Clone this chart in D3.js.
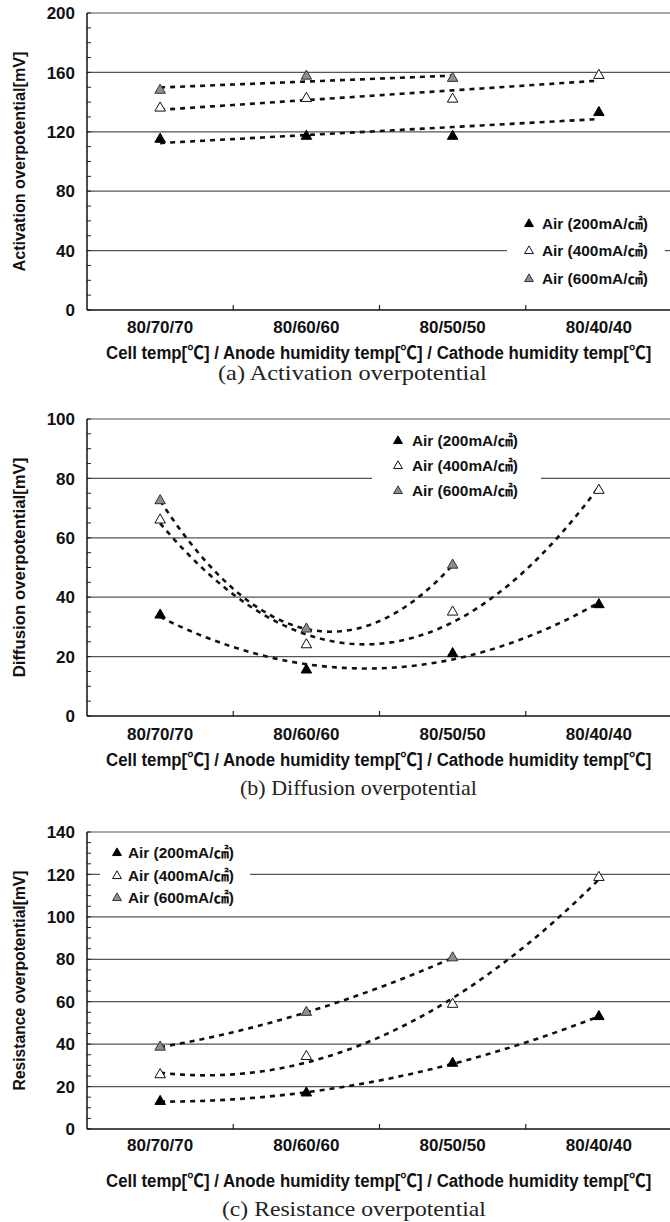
<!DOCTYPE html>
<html>
<head>
<meta charset="utf-8">
<script src="https://cdn.jsdelivr.net/npm/d3@7"></script>
<style>
  body { margin: 0; background: #fff; }
  .lbl { font-family: "Liberation Sans", "Noto Sans CJK KR", sans-serif; font-weight: bold; fill: #111; }
  .cap { font-family: "Liberation Serif", "DejaVu Serif", serif; fill: #222; }
</style>
</head>
<body>
<div id="chart"></div>
<script>
// categories on the x axis
const categories = ["80/70/70", "80/60/60", "80/50/50", "80/40/40"];
const seriesNames = ["Air (200mA/\u33A0)", "Air (400mA/\u33A0)", "Air (600mA/\u33A0)"];
const xTitle = "Cell temp[\u2103] / Anode humidity temp[\u2103] / Cathode humidity temp[\u2103]";

// (a) activation overpotential [mV]
const activation200 = [115, 117, 117, 133];
const activation400 = [136, 142.5, 142, 158];
const activation600 = [148, 157.5, 156];

// (b) diffusion overpotential [mV]
const diffusion200 = [34, 15.5, 21, 37.5];
const diffusion400 = [66, 24, 35, 76];
const diffusion600 = [72.5, 29.3, 50.8];

// (c) resistance overpotential [mV]
const resistance200 = [13, 17, 31, 53];
const resistance400 = [25.6, 34.2, 58.8, 118.6];
const resistance600 = [38.6, 55, 80.7];

const activationTicks = [0, 40, 80, 120, 160, 200];
const diffusionTicks = [0, 20, 40, 60, 80, 100];
const resistanceTicks = [0, 20, 40, 60, 80, 100, 120, 140];

const panels = [
    {top: 13, title: "Activation overpotential[mV]", caption: "(a) Activation overpotential",
     series: [activation200, activation400, activation600], ticks: activationTicks, minor: 10, degree: 1,
     legend: {x: 507, y: 210, w: 158, h: 82, mx: 529, tx: 542, rows: [224, 251, 279]},
     labelDy: 17, titleDy: 42, capDy: 63, capX: 218, capW: 269},
    {top: 419, title: "Diffusion overpotential[mV]", caption: "(b) Diffusion overpotential",
     series: [diffusion200, diffusion400, diffusion600], ticks: diffusionTicks, minor: 5, degree: 2,
     legend: {x: 372, y: 428, w: 169, h: 76, mx: 398, tx: 412, rows: [441, 466, 491]},
     labelDy: 18, titleDy: 43, capDy: 72, capX: 240, capW: 237},
    {top: 832, title: "Resistance overpotential[mV]", caption: "(c) Resistance overpotential",
     series: [resistance200, resistance400, resistance600], ticks: resistanceTicks, minor: 5, degree: 2,
     legend: {x: 100, y: 842, w: 150, h: 66, mx: 117, tx: 128, rows: [853, 876, 898]},
     labelDy: 16, titleDy: 51, capDy: 80, capX: 222, capW: 264}
];

const fills = ["#000", "#fff", "#8e8e8e"];
const strokes = ["#000", "#111", "#333"];

const width = 670, height = 1222;
const plotLeft = 87, plotRight = 672, plotH = 297;

const svg = d3.select("#chart").append("svg")
    .attr("width", width)
    .attr("height", height);

const x = d3.scaleBand().domain(categories).range([plotLeft, plotRight]);
const cx = c => x(c) + x.bandwidth() / 2;

// draw text squeezed/stretched horizontally to a given width
function fitText(parent, cls, size, str, w, base) {
    const t = parent.append("text").attr("class", cls)
        .attr("dy", "0.36em")
        .style("font-size", size + "px")
        .text(str);
    const k = w / t.node().getComputedTextLength();
    t.attr("transform", base + ` scale(${k},1)`);
    return t;
}

// least squares polynomial fit (like a spreadsheet trendline)
function polyFit(ys, degree) {
    const n = degree + 1;
    const A = [], b = [];
    for (let r = 0; r < n; r++) {
        A.push([]);
        for (let c = 0; c < n; c++) A[r].push(d3.sum(ys, (v, i) => Math.pow(i, r + c)));
        b.push(d3.sum(ys, (v, i) => v * Math.pow(i, r)));
    }
    for (let p = 0; p < n; p++) {
        for (let r = p + 1; r < n; r++) {
            const f = A[r][p] / A[p][p];
            for (let c = p; c < n; c++) A[r][c] -= f * A[p][c];
            b[r] -= f * b[p];
        }
    }
    const coef = new Array(n).fill(0);
    for (let r = n - 1; r >= 0; r--) {
        let s = b[r];
        for (let c = r + 1; c < n; c++) s -= A[r][c] * coef[c];
        coef[r] = s / A[r][r];
    }
    return t => coef.reduce((acc, k, i) => acc + k * Math.pow(t, i), 0);
}

panels.forEach(p => {
    const bottom = p.top + plotH;
    const yMax = d3.max(p.ticks);
    const y = d3.scaleLinear().domain([0, yMax]).range([bottom, p.top]);
    const g = svg.append("g");

    // gridlines
    g.selectAll(".grid").data(p.ticks.filter(t => t > 0)).join("line")
        .attr("x1", plotLeft).attr("x2", plotRight)
        .attr("y1", d => y(d)).attr("y2", d => y(d))
        .attr("stroke", "#555").attr("stroke-width", 1.2);

    // minor ticks on y axis (inside)
    g.selectAll(".minor").data(d3.range(0, yMax + 0.01, p.minor)).join("line")
        .attr("x1", plotLeft).attr("x2", plotLeft + 4)
        .attr("y1", d => y(d)).attr("y2", d => y(d))
        .attr("stroke", "#222").attr("stroke-width", 1);

    // x ticks at category boundaries (inside)
    g.selectAll(".xt").data(categories.slice(1)).join("line")
        .attr("x1", d => x(d)).attr("x2", d => x(d))
        .attr("y1", bottom).attr("y2", bottom - 5)
        .attr("stroke", "#222").attr("stroke-width", 1.2);

    // axes lines
    g.append("line").attr("x1", plotLeft).attr("x2", plotLeft)
        .attr("y1", p.top).attr("y2", bottom)
        .attr("stroke", "#111").attr("stroke-width", 1.5);
    g.append("line").attr("x1", plotLeft).attr("x2", plotRight)
        .attr("y1", bottom).attr("y2", bottom)
        .attr("stroke", "#111").attr("stroke-width", 1.5);

    // y tick labels
    g.selectAll(".yl").data(p.ticks).join("text")
        .attr("class", "lbl")
        .attr("x", 75).attr("y", d => y(d))
        .attr("dy", "0.36em")
        .attr("text-anchor", "end")
        .style("font-size", "17px")
        .text(d => d);

    // x tick labels
    g.selectAll(".xl").data(categories).join("text")
        .attr("class", "lbl")
        .attr("x", d => cx(d)).attr("y", bottom + p.labelDy)
        .attr("dy", "0.36em")
        .attr("text-anchor", "middle")
        .style("font-size", "17px")
        .text(d => d);

    // axis titles
    fitText(g, "lbl", 16, p.title, 220, `translate(19,${(p.top + bottom) / 2}) rotate(-90)`)
        .attr("text-anchor", "middle");
    fitText(g, "lbl", 18.5, xTitle, 546, `translate(106,${bottom + p.titleDy})`);

    // caption
    fitText(g, "cap", 20, p.caption, p.capW, `translate(${p.capX},${bottom + p.capDy})`);

    // trendlines
    const line = d3.line().x(d => d[0]).y(d => d[1]);
    p.series.forEach(vals => {
        const f = polyFit(vals, p.degree);
        const last = vals.length - 1;
        const pts = d3.range(0, last + 0.001, last / 60).map(t => {
            const px = x(categories[0]) + x.bandwidth() * (t + 0.5);
            return [px, y(f(t))];
        });
        g.append("path").attr("d", line(pts))
            .attr("fill", "none")
            .attr("stroke", "#111")
            .attr("stroke-width", 2.6)
            .attr("stroke-dasharray", "5,5");
    });

    // markers
    const tri = d3.symbol(d3.symbolTriangle, 48);
    p.series.forEach((vals, si) => {
        g.selectAll(null).data(vals).join("path")
            .attr("d", tri)
            .attr("transform", (d, i) => `translate(${cx(categories[i])},${y(d)})`)
            .attr("fill", fills[si])
            .attr("stroke", strokes[si])
            .attr("stroke-width", 1);
    });

    // legend
    const L = p.legend;
    g.append("rect").attr("x", L.x).attr("y", L.y).attr("width", L.w).attr("height", L.h)
        .attr("fill", "#fff");
    const triS = d3.symbol(d3.symbolTriangle, 34);
    seriesNames.forEach((name, si) => {
        g.append("path").attr("d", triS)
            .attr("transform", `translate(${L.mx},${L.rows[si]})`)
            .attr("fill", fills[si]).attr("stroke", strokes[si]).attr("stroke-width", 1);
        fitText(g, "lbl", 14.5, name, 106, `translate(${L.tx},${L.rows[si]})`);
    });
});
</script>
</body>
</html>
